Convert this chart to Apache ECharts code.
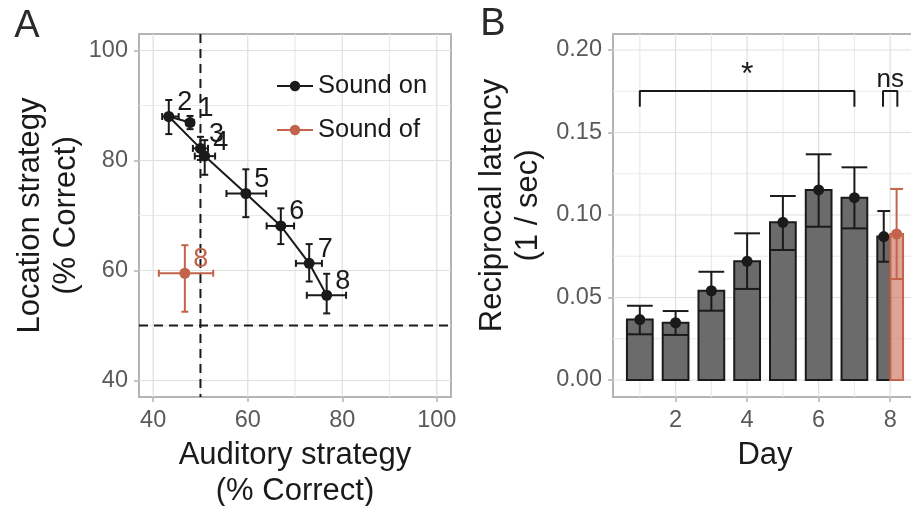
<!DOCTYPE html>
<html><head><meta charset="utf-8">
<script src="https://cdn.jsdelivr.net/npm/echarts@6/dist/echarts.min.js"></script>
<style>html,body{margin:0;padding:0;background:#fff}#c{width:911px;height:506px}</style>
</head><body><div id="c"></div>
<script>
// ---------- Panel A data ----------
const daysA    = ['1','2','3','4','5','6','7','8'];
const audOn    = [47.8, 43.3, 50.0, 50.9, 59.6, 67.0, 73.0, 76.7];
const audOnLo  = [47.0, 41.9, 48.4, 48.8, 55.5, 64.0, 70.2, 72.5];
const audOnHi  = [48.6, 45.4, 51.6, 53.1, 63.9, 69.8, 75.7, 80.8];
const locOn    = [86.9, 88.0, 82.2, 80.8, 74.0, 68.1, 61.3, 55.5];
const locOnLo  = [85.7, 84.8, 80.1, 77.4, 69.7, 64.8, 58.0, 52.2];
const locOnHi  = [88.1, 91.0, 84.3, 83.7, 78.4, 71.3, 64.8, 59.4];
const daysOffA = ['8'];
const audOff   = [46.7];
const audOffLo = [41.2];
const audOffHi = [52.7];
const locOff   = [59.5];
const locOffLo = [52.5];
const locOffHi = [64.6];
const chanceLevel = 50;
const ticksA      = [40, 60, 80, 100];
const minorTicksA = [50, 70, 90];
const rangeA      = [37, 103];

// ---------- Panel B data ----------
const daysB    = [1, 2, 3, 4, 5, 6, 7, 8];
const rlOn     = [0.0366, 0.0347, 0.0541, 0.0719, 0.0956, 0.1152, 0.1105, 0.0869];
const rlOnLo   = [0.0277, 0.0273, 0.0420, 0.0552, 0.0788, 0.0929, 0.0919, 0.0717];
const rlOnHi   = [0.0450, 0.0418, 0.0656, 0.0889, 0.1115, 0.1368, 0.1289, 0.1024];
const daysOffB = [8];
const rlOff    = [0.0885];
const rlOffLo  = [0.0612];
const rlOffHi  = [0.1158];
const ticksBx      = [2, 4, 6, 8];
const minorTicksBx = [1, 3, 5, 7];
const ticksBy      = [0, 0.05, 0.10, 0.15, 0.20];
const minorTicksBy = [0.025, 0.075, 0.125, 0.175];
const rangeBx = [0.25, 8.75];
const rangeBy = [-0.0103, 0.2097];
const sigStar = { from: 1, to: 7, top: 0.1752, leg: 0.1656, text: '*', at: [4, 0.1845] };
const sigNs   = { from: 7.8, to: 8.2, top: 0.1752, leg: 0.1656, text: 'ns', at: [8, 0.1822] };

// ---------- styles ----------
const FONT = '"Liberation Sans", Arial, Helvetica, sans-serif';
const BLACK = '#1a1a1a', RED = '#c4634c', RED_FILL = 'rgba(196,99,76,0.58)', GRAY_FILL = '#6b6b6b';
const GMAJ = '#dfdfdf', GMIN = '#eaeaea', BORDER = '#b4b4b8', TICKTXT = '#5a5a5a';
const BAR_W = 0.72;

const chart = echarts.init(document.getElementById('c'), null, { renderer: 'canvas' });

function gridSeries(xi, vals, dir, color, ref) {
  return {
    type: 'custom', xAxisIndex: xi, yAxisIndex: xi, z: 1, silent: true,
    data: vals.map(v => dir === 'v' ? [v, ref] : [ref, v]),
    renderItem(params, api) {
      const cs = params.coordSys;
      const p = api.coord([api.value(0), api.value(1)]);
      if (dir === 'v') return { type: 'line', shape: { x1: p[0], y1: cs.y, x2: p[0], y2: cs.y + cs.height }, style: { stroke: color, lineWidth: 1.2 } };
      return { type: 'line', shape: { x1: cs.x, y1: p[1], x2: cs.x + cs.width, y2: p[1] }, style: { stroke: color, lineWidth: 1.2 } };
    }
  };
}

function errSeriesA(x, xlo, xhi, y, ylo, yhi, color) {
  const cap = 3.5;
  return {
    type: 'custom', xAxisIndex: 0, yAxisIndex: 0, z: 3, silent: true,
    data: x.map((v, i) => [v, y[i], xlo[i], xhi[i], ylo[i], yhi[i]]),
    renderItem(params, api) {
      const c = api.coord([api.value(0), api.value(1)]);
      const l = api.coord([api.value(2), api.value(1)]);
      const r = api.coord([api.value(3), api.value(1)]);
      const b = api.coord([api.value(0), api.value(4)]);
      const t = api.coord([api.value(0), api.value(5)]);
      const st = { stroke: color, lineWidth: 2 };
      return { type: 'group', children: [
        { type: 'line', shape: { x1: l[0], y1: c[1], x2: r[0], y2: c[1] }, style: st },
        { type: 'line', shape: { x1: l[0], y1: c[1] - cap, x2: l[0], y2: c[1] + cap }, style: st },
        { type: 'line', shape: { x1: r[0], y1: c[1] - cap, x2: r[0], y2: c[1] + cap }, style: st },
        { type: 'line', shape: { x1: c[0], y1: b[1], x2: c[0], y2: t[1] }, style: st },
        { type: 'line', shape: { x1: c[0] - cap, y1: b[1], x2: c[0] + cap, y2: b[1] }, style: st },
        { type: 'line', shape: { x1: c[0] - cap, y1: t[1], x2: c[0] + cap, y2: t[1] }, style: st }
      ]};
    }
  };
}

function barSeriesB(name, days, m, lo, hi, sign, fill, stroke) {
  return {
    type: 'custom', name, xAxisIndex: 1, yAxisIndex: 1, z: 3, silent: true,
    data: days.map((d, i) => [d, m[i], lo[i], hi[i]]),
    renderItem(params, api) {
      const d = api.value(0);
      const paired = daysOffB.includes(d) && daysB.includes(d);
      const w = paired ? BAR_W / 2 : BAR_W;
      const cx = paired ? d + sign * BAR_W / 4 : d;
      const p0 = api.coord([cx - w / 2, 0]);
      const p1 = api.coord([cx + w / 2, api.value(1)]);
      const pm = api.coord([cx, api.value(1)]);
      const pl = api.coord([cx, api.value(2)]);
      const ph = api.coord([cx, api.value(3)]);
      const st = { stroke, lineWidth: 2 };
      return { type: 'group', children: [
        { type: 'rect', shape: { x: p0[0], y: p1[1], width: p1[0] - p0[0], height: p0[1] - p1[1] }, style: { fill, stroke, lineWidth: 2 } },
        { type: 'line', shape: { x1: pm[0], y1: pl[1], x2: pm[0], y2: ph[1] }, style: st },
        { type: 'line', shape: { x1: p0[0], y1: pl[1], x2: p1[0], y2: pl[1] }, style: st },
        { type: 'line', shape: { x1: p0[0], y1: ph[1], x2: p1[0], y2: ph[1] }, style: st },
        { type: 'circle', shape: { cx: pm[0], cy: pm[1], r: 5.5 }, style: { fill: stroke } }
      ]};
    }
  };
}

function bracket(s) {
  return {
    type: 'line', xAxisIndex: 1, yAxisIndex: 1, z: 4, silent: true, symbol: 'none',
    lineStyle: { color: BLACK, width: 2 },
    data: [[s.from, s.leg], [s.from, s.top], [s.to, s.top], [s.to, s.leg]]
  };
}
function sigText(list) {
  return {
    type: 'custom', xAxisIndex: 1, yAxisIndex: 1, z: 4, silent: true,
    data: list.map(s => [s.at[0], s.at[1]]),
    renderItem(params, api) {
      const p = api.coord([api.value(0), api.value(1)]);
      const s = list[params.dataIndex];
      return { type: 'text', x: p[0], y: p[1], style: { text: s.text, fontSize: s.text === '*' ? 32 : 26, fontFamily: FONT, fill: BLACK, align: 'center', verticalAlign: 'middle' } };
    }
  };
}

function valAxis(gi, range, ticks, fmt, name, gap, isY, namePad) {
  return {
    type: 'value', gridIndex: gi, min: range[0], max: range[1],
    splitLine: { show: false }, minorSplitLine: { show: false },
    axisLine: { show: false, onZero: false },
    axisTick: { show: true, length: 5, lineStyle: { color: BORDER, width: 1.5 }, customValues: ticks },
    axisLabel: { customValues: ticks, formatter: fmt, fontSize: 23.5, color: TICKTXT, fontFamily: FONT, margin: isY ? 11 : 12 },
    name, nameLocation: 'middle', nameGap: gap,
    nameTextStyle: { fontSize: 31, color: BLACK, fontFamily: FONT, lineHeight: 36, padding: namePad || 0 }
  };
}

const option = {
  animation: false,
  backgroundColor: '#ffffff',
  textStyle: { fontFamily: FONT },
  grid: [
    { left: 139, right: 460, top: 34, bottom: 109, show: true, borderColor: BORDER, borderWidth: 2, backgroundColor: 'transparent', outerBoundsMode: 'none', containLabel: false },
    { left: 613, right: -6, top: 34, bottom: 109, show: true, borderColor: BORDER, borderWidth: 2, backgroundColor: 'transparent', outerBoundsMode: 'none', containLabel: false }
  ],
  xAxis: [
    valAxis(0, rangeA, ticksA, v => String(v), 'Auditory strategy\n(% Correct)', 40, false),
    valAxis(1, rangeBx, ticksBx, v => String(v), 'Day', 40, false)
  ],
  yAxis: [
    valAxis(0, rangeA, ticksA, v => String(v), 'Location strategy\n(% Correct)', 55, true),
    valAxis(1, rangeBy, ticksBy, v => v.toFixed(2), 'Reciprocal latency\n(1 / sec)', 67, true, [0, 0, 0, 20])
  ],
  legend: {
    data: ['Sound on', 'Sound of'], orient: 'vertical', left: 276, top: 71, padding: 0,
    itemWidth: 36, itemHeight: 13, itemGap: 14, selectedMode: false,
    textStyle: { fontSize: 25.5, color: BLACK, fontFamily: FONT, lineHeight: 30 }
  },
  graphic: [
    { type: 'text', x: 27, y: 26.5, style: { text: 'A', fontSize: 38, fontFamily: FONT, fill: '#2a2a2a', align: 'center', verticalAlign: 'middle' } },
    { type: 'text', x: 493, y: 24.5, style: { text: 'B', fontSize: 38, fontFamily: FONT, fill: '#2a2a2a', align: 'center', verticalAlign: 'middle' } }
  ],
  series: [
    gridSeries(0, minorTicksA, 'v', GMIN, ticksA[0]),
    gridSeries(0, minorTicksA, 'h', GMIN, ticksA[0]),
    gridSeries(0, ticksA, 'v', GMAJ, ticksA[0]),
    gridSeries(0, ticksA, 'h', GMAJ, ticksA[0]),
    gridSeries(1, minorTicksBx, 'v', GMIN, ticksBy[0]),
    gridSeries(1, minorTicksBy, 'h', GMIN, ticksBx[0]),
    gridSeries(1, ticksBx, 'v', GMAJ, ticksBy[0]),
    gridSeries(1, ticksBy, 'h', GMAJ, ticksBx[0]),
    {
      type: 'custom', xAxisIndex: 0, yAxisIndex: 0, z: 2, silent: true,
      data: [[chanceLevel, chanceLevel]],
      renderItem(params, api) {
        const cs = params.coordSys;
        const p = api.coord([api.value(0), api.value(1)]);
        const st = { stroke: BLACK, lineWidth: 2, lineDash: [9, 6] };
        return { type: 'group', children: [
          { type: 'line', shape: { x1: p[0], y1: cs.y, x2: p[0], y2: cs.y + cs.height }, style: st },
          { type: 'line', shape: { x1: cs.x, y1: p[1], x2: cs.x + cs.width, y2: p[1] }, style: st }
        ]};
      }
    },
    errSeriesA(audOn, audOnLo, audOnHi, locOn, locOnLo, locOnHi, BLACK),
    errSeriesA(audOff, audOffLo, audOffHi, locOff, locOffLo, locOffHi, RED),
    {
      type: 'line', name: 'Sound on', xAxisIndex: 0, yAxisIndex: 0, z: 4,
      data: audOn.map((v, i) => [v, locOn[i]]),
      symbol: 'circle', symbolSize: 11, color: BLACK,
      itemStyle: { color: BLACK }, lineStyle: { color: BLACK, width: 2 },
      label: { show: true, position: 'inside', offset: [16, -14], formatter: p => daysA[p.dataIndex], fontSize: 27, color: BLACK, fontFamily: FONT }
    },
    {
      type: 'line', name: 'Sound of', xAxisIndex: 0, yAxisIndex: 0, z: 4,
      data: audOff.map((v, i) => [v, locOff[i]]),
      symbol: 'circle', symbolSize: 11, color: RED,
      itemStyle: { color: RED }, lineStyle: { color: RED, width: 2 },
      label: { show: true, position: 'inside', offset: [16, -14], formatter: p => daysOffA[p.dataIndex], fontSize: 27, color: RED, fontFamily: FONT }
    },
    barSeriesB('on', daysB, rlOn, rlOnLo, rlOnHi, -1, GRAY_FILL, BLACK),
    barSeriesB('off', daysOffB, rlOff, rlOffLo, rlOffHi, 1, RED_FILL, RED),
    bracket(sigStar),
    bracket(sigNs),
    sigText([sigStar, sigNs])
  ]
};
chart.setOption(option);
</script>
</body></html>
